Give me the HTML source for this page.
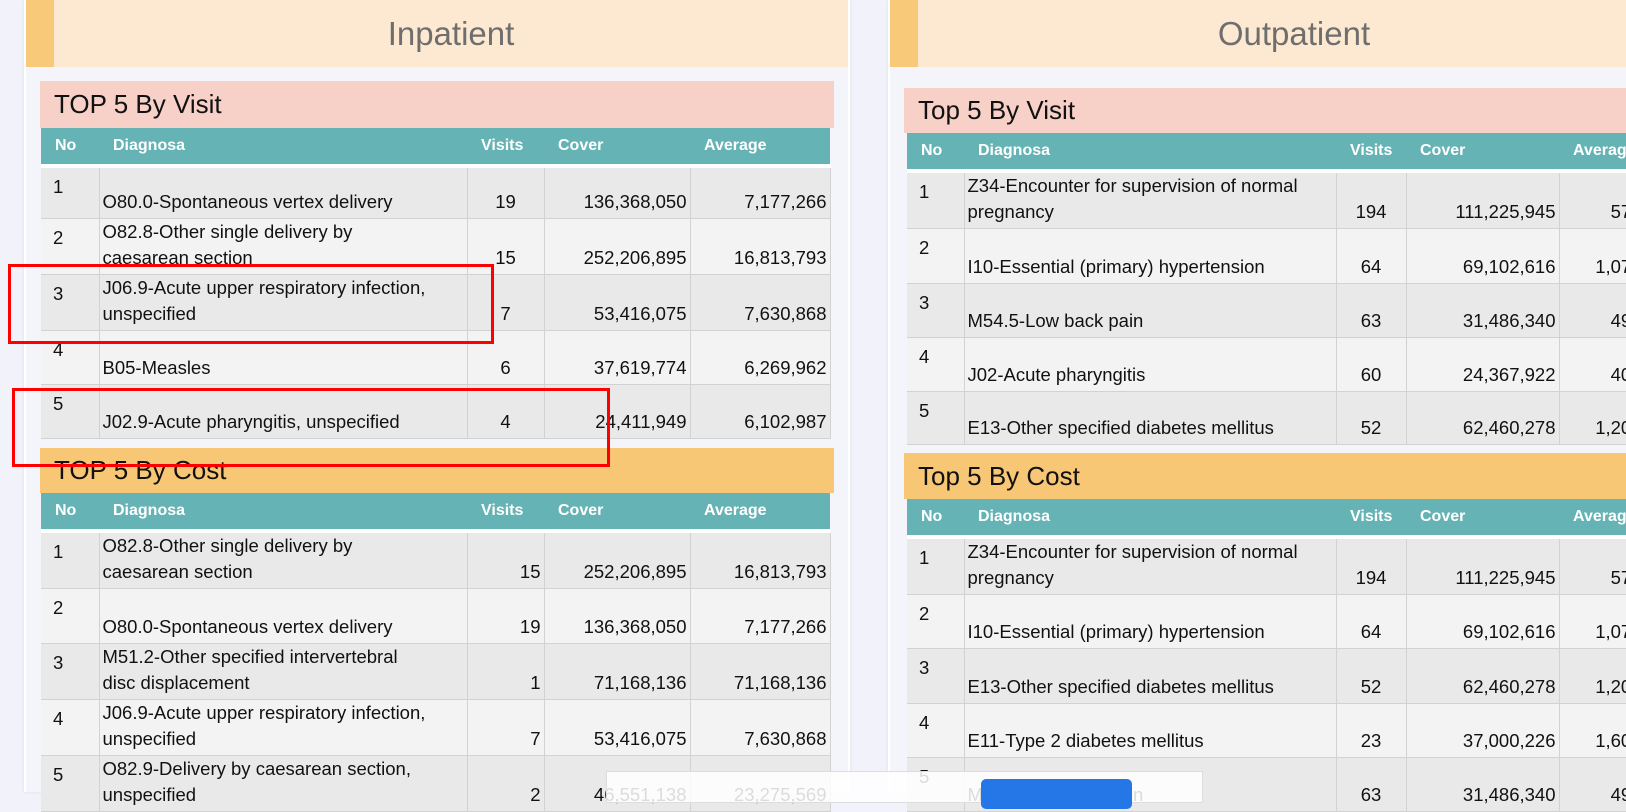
<!DOCTYPE html>
<html><head><meta charset="utf-8">
<style>
html,body{margin:0;padding:0;}
body{width:1626px;height:792px;overflow:hidden;position:relative;background:#f2f2fb;font-family:"Liberation Sans",sans-serif;}
.panel{position:absolute;top:0;height:792px;background:#f4f4fb;border-left:2px solid #fff;border-right:2px solid #fff;box-shadow:0 0 3px #ddd;}
.ph{position:absolute;top:0;left:0;right:0;height:67px;background:#fde9d2;}
.ph .stripe{position:absolute;left:0;top:0;width:28px;height:67px;background:#f9c97a;}
.ph .t{position:absolute;left:28px;right:0;top:0;height:67px;line-height:67px;text-align:center;font-size:33px;color:#6e6e6e;}
.band{position:absolute;font-size:26px;color:#111;padding-left:14px;box-sizing:border-box;}
.pink{background:#f7d0c8;}
.orange{background:#f8c776;}
table{position:absolute;border-collapse:collapse;table-layout:fixed;font-size:18.5px;color:#111;}
thead th{background:#66b3b5;color:#fff;font-weight:bold;font-size:16px;text-align:left;padding:0 0 0 14px;height:36px;}
thead tr{border-bottom:4px solid #fff;}
td{border:1px solid #d2d2d2;vertical-align:bottom;padding:0 3px 3px 3px;line-height:26px;overflow:hidden;white-space:normal;}
td.no{vertical-align:top;padding:6px 0 0 12px;border-left:none;}
td.num{text-align:right;}
td.c{text-align:center;}
tbody tr:nth-child(odd){background:#e9e9e9;}
tbody tr:nth-child(even){background:#f3f3f3;}
.red{position:absolute;border:3px solid #f00;box-sizing:border-box;}
</style></head><body>

<div class="panel" style="left:24px;width:822px;">
  <div class="ph"><div class="stripe"></div><div class="t">Inpatient</div></div>
  <div class="band pink" style="left:14px;top:81px;width:794px;height:47px;line-height:47px;">TOP 5 By Visit</div>
  <table style="left:15px;top:128px;width:789px;">
    <colgroup><col style="width:58px"><col style="width:368px"><col style="width:77px"><col style="width:146px"><col style="width:140px"></colgroup>
    <thead><tr><th>No</th><th>Diagnosa</th><th>Visits</th><th>Cover</th><th>Average</th></tr></thead>
    <tbody>
      <tr style="height:52px"><td class="no">1</td><td>O80.0-Spontaneous vertex delivery</td><td class="c">19</td><td class="num">136,368,050</td><td class="num">7,177,266</td></tr>
      <tr style="height:54px"><td class="no">2</td><td>O82.8-Other single delivery by<br>caesarean section</td><td class="c">15</td><td class="num">252,206,895</td><td class="num">16,813,793</td></tr>
      <tr style="height:55px"><td class="no">3</td><td>J06.9-Acute upper respiratory infection, unspecified</td><td class="c">7</td><td class="num">53,416,075</td><td class="num">7,630,868</td></tr>
      <tr style="height:54px"><td class="no">4</td><td>B05-Measles</td><td class="c">6</td><td class="num">37,619,774</td><td class="num">6,269,962</td></tr>
      <tr style="height:54px"><td class="no">5</td><td>J02.9-Acute pharyngitis, unspecified</td><td class="c">4</td><td class="num">24,411,949</td><td class="num">6,102,987</td></tr>
    </tbody>
  </table>
  <div class="band orange" style="left:14px;top:448px;width:794px;height:45px;line-height:45px;">TOP 5 By Cost</div>
  <table style="left:15px;top:493px;width:789px;">
    <colgroup><col style="width:58px"><col style="width:368px"><col style="width:77px"><col style="width:146px"><col style="width:140px"></colgroup>
    <thead><tr><th>No</th><th>Diagnosa</th><th>Visits</th><th>Cover</th><th>Average</th></tr></thead>
    <tbody>
      <tr style="height:54px"><td class="no">1</td><td>O82.8-Other single delivery by<br>caesarean section</td><td class="num">15</td><td class="num">252,206,895</td><td class="num">16,813,793</td></tr>
      <tr style="height:55px"><td class="no">2</td><td>O80.0-Spontaneous vertex delivery</td><td class="num">19</td><td class="num">136,368,050</td><td class="num">7,177,266</td></tr>
      <tr style="height:54px"><td class="no">3</td><td>M51.2-Other specified intervertebral<br>disc displacement</td><td class="num">1</td><td class="num">71,168,136</td><td class="num">71,168,136</td></tr>
      <tr style="height:54px"><td class="no">4</td><td>J06.9-Acute upper respiratory infection, unspecified</td><td class="num">7</td><td class="num">53,416,075</td><td class="num">7,630,868</td></tr>
      <tr style="height:54px"><td class="no">5</td><td>O82.9-Delivery by caesarean section, unspecified</td><td class="num">2</td><td class="num">46,551,138</td><td class="num">23,275,569</td></tr>
    </tbody>
  </table>
</div>

<div class="panel" style="left:888px;width:780px;">
  <div class="ph"><div class="stripe"></div><div class="t" style="right:0">Outpatient</div></div>
  <div class="band pink" style="left:14px;top:88px;width:780px;height:45px;line-height:45px;">Top 5 By Visit</div>
  <table style="left:17px;top:133px;width:774px;">
    <colgroup><col style="width:57px"><col style="width:372px"><col style="width:70px"><col style="width:153px"><col style="width:122px"></colgroup>
    <thead><tr><th>No</th><th>Diagnosa</th><th>Visits</th><th>Cover</th><th>Average</th></tr></thead>
    <tbody>
      <tr style="height:53px"><td class="no">1</td><td>Z34-Encounter for supervision of normal pregnancy</td><td class="c">194</td><td class="num">111,225,945</td><td class="num">573,330</td></tr>
      <tr style="height:55px"><td class="no">2</td><td>I10-Essential (primary) hypertension</td><td class="c">64</td><td class="num">69,102,616</td><td class="num">1,079,728</td></tr>
      <tr style="height:54px"><td class="no">3</td><td>M54.5-Low back pain</td><td class="c">63</td><td class="num">31,486,340</td><td class="num">499,783</td></tr>
      <tr style="height:54px"><td class="no">4</td><td>J02-Acute pharyngitis</td><td class="c">60</td><td class="num">24,367,922</td><td class="num">406,132</td></tr>
      <tr style="height:53px"><td class="no">5</td><td>E13-Other specified diabetes mellitus</td><td class="c">52</td><td class="num">62,460,278</td><td class="num">1,201,159</td></tr>
    </tbody>
  </table>
  <div class="band orange" style="left:14px;top:453px;width:780px;height:46px;line-height:46px;">Top 5 By Cost</div>
  <table style="left:17px;top:499px;width:774px;">
    <colgroup><col style="width:57px"><col style="width:372px"><col style="width:70px"><col style="width:153px"><col style="width:122px"></colgroup>
    <thead><tr><th>No</th><th>Diagnosa</th><th>Visits</th><th>Cover</th><th>Average</th></tr></thead>
    <tbody>
      <tr style="height:55px"><td class="no">1</td><td>Z34-Encounter for supervision of normal pregnancy</td><td class="c">194</td><td class="num">111,225,945</td><td class="num">573,330</td></tr>
      <tr style="height:54px"><td class="no">2</td><td>I10-Essential (primary) hypertension</td><td class="c">64</td><td class="num">69,102,616</td><td class="num">1,079,728</td></tr>
      <tr style="height:55px"><td class="no">3</td><td>E13-Other specified diabetes mellitus</td><td class="c">52</td><td class="num">62,460,278</td><td class="num">1,201,159</td></tr>
      <tr style="height:54px"><td class="no">4</td><td>E11-Type 2 diabetes mellitus</td><td class="c">23</td><td class="num">37,000,226</td><td class="num">1,608,705</td></tr>
      <tr style="height:54px"><td class="no">5</td><td>M54.5-Low back pain</td><td class="c">63</td><td class="num">31,486,340</td><td class="num">499,783</td></tr>
    </tbody>
  </table>
</div>

<div class="red" style="left:8px;top:264px;width:486px;height:80px;"></div>
<div class="red" style="left:12px;top:388px;width:598px;height:79px;"></div>

<div style="position:absolute;left:606px;top:771px;width:595px;height:30px;background:rgba(255,255,255,0.85);border:1px solid #ddd;">
  <div style="position:absolute;left:374px;top:7px;width:151px;height:30px;background:#2576e6;border-radius:5px;"></div>
</div>
</body></html>
